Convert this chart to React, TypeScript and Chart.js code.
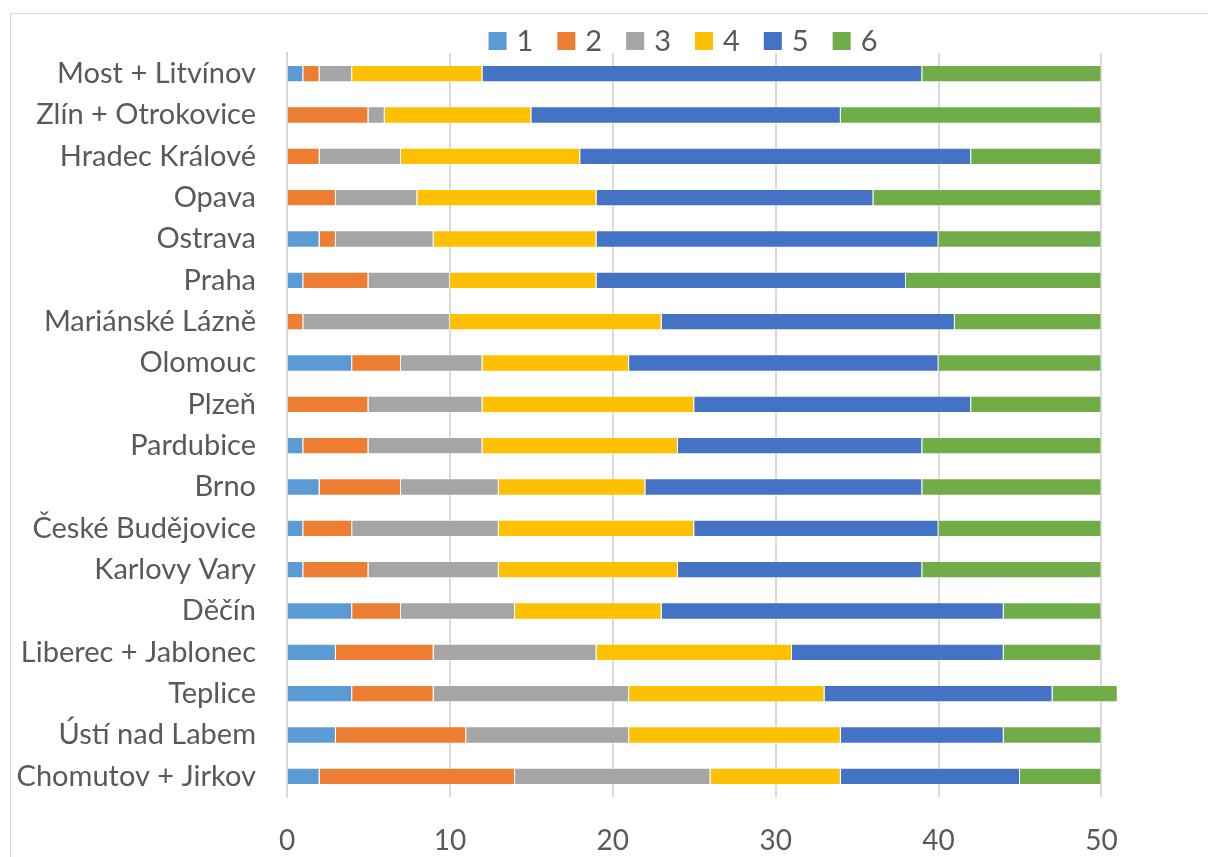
import React, { useEffect, useRef } from "react";
import { Chart, registerables } from "chart.js";

Chart.register(...registerables);

const categories = [
  "Most + Litvínov",
  "Zlín + Otrokovice",
  "Hradec Králové",
  "Opava",
  "Ostrava",
  "Praha",
  "Mariánské Lázně",
  "Olomouc",
  "Plzeň",
  "Pardubice",
  "Brno",
  "České Budějovice",
  "Karlovy Vary",
  "Děčín",
  "Liberec + Jablonec",
  "Teplice",
  "Ústí nad Labem",
  "Chomutov + Jirkov",
];

const series1 = [1, 0, 0, 0, 2, 1, 0, 4, 0, 1, 2, 1, 1, 4, 3, 4, 3, 2];
const series2 = [1, 5, 2, 3, 1, 4, 1, 3, 5, 4, 5, 3, 4, 3, 6, 5, 8, 12];
const series3 = [2, 1, 5, 5, 6, 5, 9, 5, 7, 7, 6, 9, 8, 7, 10, 12, 10, 12];
const series4 = [8, 9, 11, 11, 10, 9, 13, 9, 13, 12, 9, 12, 11, 9, 12, 12, 13, 8];
const series5 = [27, 19, 24, 17, 21, 19, 18, 19, 17, 15, 17, 15, 15, 21, 13, 14, 10, 11];
const series6 = [11, 16, 8, 14, 10, 12, 9, 10, 8, 11, 11, 10, 11, 6, 6, 4, 6, 5];

const seriesNames = ["1", "2", "3", "4", "5", "6"];
const seriesColors = ["#5B9BD5", "#ED7D31", "#A5A5A5", "#FFC000", "#4472C4", "#70AD47"];
const xTicks = [0, 10, 20, 30, 40, 50];

const FONT = "Lato, 'Open Sans', sans-serif";
const TEXT = "#595959";

const topLegend = {
  id: "topLegend",
  afterDraw(chart: any) {
    const ctx = chart.ctx;
    const ds = chart.data.datasets;
    ctx.save();
    ctx.font = `29px ${FONT}`;
    ctx.textBaseline = "middle";
    ctx.textAlign = "left";
    const box = 18;
    const gapBoxText = 10;
    const gapItems = 24;
    const widths = ds.map((d: any) => box + gapBoxText + ctx.measureText(d.label).width);
    const total = widths.reduce((a: number, b: number) => a + b, 0) + gapItems * (ds.length - 1);
    const centerX = chart.chartArea.left + (chart.chartArea.right - chart.chartArea.left) / 2 - 21;
    const cy = 41;
    let x = centerX - total / 2;
    ds.forEach((d: any, i: number) => {
      ctx.fillStyle = d.backgroundColor;
      ctx.fillRect(x, cy - box / 2, box, box);
      ctx.fillStyle = TEXT;
      ctx.fillText(d.label, x + box + gapBoxText, cy + 1);
      x += widths[i] + gapItems;
    });
    ctx.restore();
  },
};

export default function App() {
  const ref = useRef<HTMLCanvasElement | null>(null);

  useEffect(() => {
    if (!ref.current) return;
    const all = [series1, series2, series3, series4, series5, series6];
    const chart = new Chart(ref.current, {
      type: "bar",
      data: {
        labels: categories,
        datasets: all.map((d, i) => ({
          label: seriesNames[i],
          data: d,
          backgroundColor: seriesColors[i],
          borderColor: "rgba(255,255,255,0.45)",
          borderWidth: 1,
          barPercentage: 0.42,
          categoryPercentage: 1,
        })),
      },
      plugins: [topLegend],
      options: {
        indexAxis: "y",
        animation: false,
        responsive: false,
        maintainAspectRatio: false,
        layout: { padding: { top: 53, right: 87, bottom: 0, left: 0 } },
        plugins: {
          tooltip: { enabled: false },
          legend: { display: false },
        },
        scales: {
          x: {
            stacked: true,
            min: 0,
            max: 51.2,
            afterBuildTicks: (scale: any) => {
              scale.ticks = xTicks.map((v) => ({ value: v }));
            },
            afterFit: (scale: any) => {
              scale.height = 60;
            },
            grid: { color: "#d9d9d9", lineWidth: 2, drawTicks: false },
            border: { display: false },
            ticks: {
              color: TEXT,
              padding: 27,
              font: { family: FONT, size: 28 },
            },
          },
          y: {
            stacked: true,
            afterFit: (scale: any) => {
              scale.width = 287;
            },
            grid: { display: false, drawTicks: false },
            border: { display: true, color: "#d9d9d9", width: 2 },
            ticks: {
              color: TEXT,
              padding: 31,
              autoSkip: false,
              font: { family: FONT, size: 29 },
            },
          },
        },
      },
    });
    return () => chart.destroy();
  }, []);

  return (
    <div style={{ position: "absolute", left: 0, top: 0, width: 1208, height: 857, background: "#fff", overflow: "hidden" }}>
      <div
        style={{
          position: "absolute",
          left: 10,
          top: 13,
          width: 1300,
          height: 1000,
          border: "1px solid #d9d9d9",
          boxSizing: "border-box",
        }}
      />
      <canvas ref={ref} width={1208} height={857} style={{ position: "absolute", left: 0, top: 0 }} />
    </div>
  );
}
